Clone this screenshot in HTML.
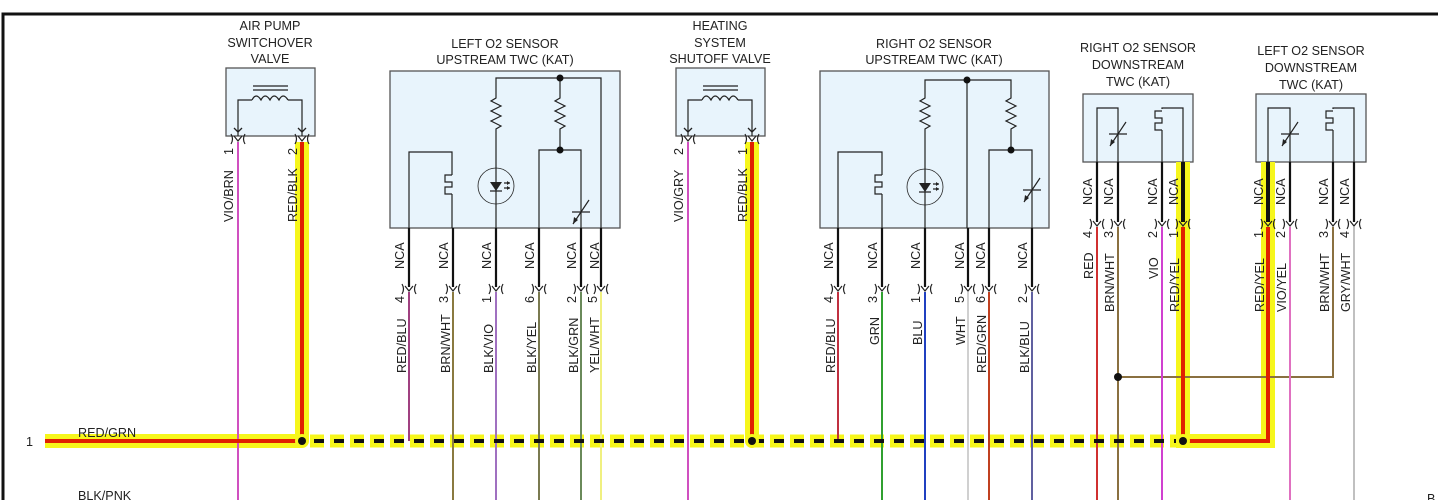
<!DOCTYPE html>
<html><head><meta charset="utf-8"><style>
html,body{margin:0;padding:0;background:#fff}
svg{display:block}
text{font-family:"Liberation Sans",sans-serif;font-size:12.6px;fill:#222}
</style></head><body>
<svg width="1438" height="500" viewBox="0 0 1438 500" xmlns="http://www.w3.org/2000/svg">
<defs>
<g id="con"><path d="M-7,-5 Q-4,0 -7,5 M7,-5 Q4,0 7,5 M-4,-3 L0,2 L4,-3" fill="none" stroke="#222" stroke-width="1.2"/></g>
<g id="res"><path d="M0,0 L0,4 L-5,7 L5,12 L-5,17 L5,22 L-5,27 L5,32 L0,35 L0,38" fill="none" stroke="#222" stroke-width="1.2"/></g>
<g id="therm"><path d="M-9,0 L9,0 M-8,12 L8,-12" fill="none" stroke="#222" stroke-width="1.2"/><path d="M-8,12 L-7,5 L-3,8 Z" fill="#222"/></g>
<g id="heat"><path d="M0,0 L-7,0 L-7,7 L0,7 L0,12 L-7,12 L-7,19 L0,19" fill="#fff0" stroke="#222" stroke-width="1.2"/></g>
<g id="led"><circle r="18" fill="none" stroke="#222" stroke-width="0.8"/><path d="M-6,-4 L6,-4 L0,5 Z" fill="#222"/><path d="M-6,5 L6,5 M8,-3 L14,-3 M8,2 L14,2" stroke="#222" stroke-width="1.2"/><path d="M14,-3 l-3,-2 v4z M14,2 l-3,-2 v4z" fill="#222"/></g>
</defs>

<path d="M3,500 L3,14 L1438,14" fill="none" stroke="#111" stroke-width="3"/>

<g text-anchor="middle">
<text x="270" y="30">AIR PUMP</text><text x="270" y="47">SWITCHOVER</text><text x="270" y="63">VALVE</text>
<text x="505" y="48">LEFT O2 SENSOR</text><text x="505" y="64">UPSTREAM TWC (KAT)</text>
<text x="720" y="30">HEATING</text><text x="720" y="47">SYSTEM</text><text x="720" y="63">SHUTOFF VALVE</text>
<text x="934" y="48">RIGHT O2 SENSOR</text><text x="934" y="64">UPSTREAM TWC (KAT)</text>
<text x="1138" y="52">RIGHT O2 SENSOR</text><text x="1138" y="69">DOWNSTREAM</text><text x="1138" y="86">TWC (KAT)</text>
<text x="1311" y="55">LEFT O2 SENSOR</text><text x="1311" y="72">DOWNSTREAM</text><text x="1311" y="89">TWC (KAT)</text>
</g>

<g fill="#e8f4fc" stroke="#555" stroke-width="1.3">
<rect x="226" y="68" width="89" height="68"/>
<rect x="390" y="71" width="230" height="157"/>
<rect x="676" y="68" width="89" height="68"/>
<rect x="820" y="71" width="229" height="157"/>
<rect x="1083" y="94" width="110" height="68"/>
<rect x="1256" y="94" width="110" height="68"/>
</g>

<g stroke="#f6f61c" stroke-width="14" fill="none">
<path d="M45,441 L302,441 M302,142 L302,441"/>
<path d="M752,142 L752,441"/>
<path d="M1183,162 L1183,441 L1268,441 L1268,162"/>
</g>
<g stroke="#f6f61c" stroke-width="13" fill="none" stroke-dasharray="14 6"><path d="M310,441 L1178,441"/></g>

<g fill="none" stroke="#222" stroke-width="1.2">
<path d="M238,136 L238,100 L252,100 M288,100 L302,100 L302,136"/>
<path d="M252,100 q4,-8 9,0 q4,-8 9,0 q4,-8 9,0 q4,-8 9,0"/>
<path d="M253,86 L288,86 M253,90 L288,90"/>
<path d="M688,136 L688,100 L702,100 M738,100 L752,100 L752,136"/>
<path d="M702,100 q4,-8 9,0 q4,-8 9,0 q4,-8 9,0 q4,-8 9,0"/>
<path d="M703,86 L738,86 M703,90 L738,90"/>
</g>
<g fill="none" stroke="#222" stroke-width="1.3">
<path d="M238,132 l-4,-4 M238,132 l4,-4 M302,132 l-4,-4 M302,132 l4,-4 M688,132 l-4,-4 M688,132 l4,-4 M752,132 l-4,-4 M752,132 l4,-4"/>
</g>

<g fill="none" stroke="#222" stroke-width="1.2">
<path d="M496,228 L496,132 M496,94 L496,78 L601,78 L601,228"/>
<path d="M560,78 L560,94 M560,132 L560,150 M539,228 L539,150 L581,150 L581,228"/>
<path d="M409,228 L409,152 L452,152 L452,175 M452,194 L452,228"/>
</g>
<use href="#res" x="496" y="94"/><use href="#res" x="560" y="94"/>
<use href="#heat" x="452" y="175"/><use href="#led" x="496" y="186"/><use href="#therm" x="581" y="212"/>
<circle cx="560" cy="78" r="3.5" fill="#111"/><circle cx="560" cy="150" r="3.5" fill="#111"/>

<g fill="none" stroke="#222" stroke-width="1.2">
<path d="M925,228 L925,132 M925,94 L925,80 L1011,80 L1011,94 M967,80 L967,228"/>
<path d="M1011,132 L1011,150 M989,228 L989,150 L1032,150 L1032,228"/>
<path d="M838,228 L838,152 L882,152 L882,175 M882,194 L882,228"/>
</g>
<use href="#res" x="925" y="94"/><use href="#res" x="1011" y="94"/>
<use href="#heat" x="882" y="175"/><use href="#led" x="925" y="187"/><use href="#therm" x="1032" y="190"/>
<circle cx="967" cy="80" r="3.5" fill="#111"/><circle cx="1011" cy="150" r="3.5" fill="#111"/>

<g fill="none" stroke="#222" stroke-width="1.2">
<path d="M1097,162 L1097,108 L1118,108 L1118,162 M1162,162 L1162,130 M1162,109 L1162,108 L1183,108 L1183,162"/>
<path d="M1268,162 L1268,108 L1290,108 L1290,162 M1333,162 L1333,130 M1333,109 L1333,108 L1354,108 L1354,162"/>
</g>
<use href="#therm" x="1118" y="134"/><use href="#heat" x="1162" y="111"/>
<use href="#therm" x="1290" y="134"/><use href="#heat" x="1333" y="111"/>

<g stroke="#111" stroke-width="2.2">
<path d="M409,228 V287 M453,228 V287 M496,228 V287 M539,228 V287 M581,228 V287 M601,228 V287"/>
<path d="M838,228 V287 M882,228 V287 M925,228 V287 M968,228 V287 M989,228 V287 M1032,228 V287"/>
<path d="M1097,162 V222 M1118,162 V222 M1162,162 V222 M1183,162 V222 M1268,162 V222 M1290,162 V222 M1333,162 V222 M1354,162 V222"/>
</g>

<g stroke-width="2" fill="none">
<path d="M238,142 V500" stroke="#d050c0"/>
<path d="M688,142 V500" stroke="#d050c0"/>
<path d="M409,292 V441" stroke="#a04080"/>
<path d="M453,292 V500" stroke="#8a7a40"/>
<path d="M496,292 V500" stroke="#a070c0"/>
<path d="M539,292 V500" stroke="#7a7a50"/>
<path d="M581,292 V500" stroke="#6a8a5a"/>
<path d="M601,292 V500" stroke="#f0f080"/>
<path d="M838,292 V441" stroke="#c03040"/>
<path d="M882,292 V500" stroke="#30a030"/>
<path d="M925,292 V500" stroke="#2040c0"/>
<path d="M968,292 V500" stroke="#d0d0d0"/>
<path d="M989,292 V500" stroke="#c04020"/>
<path d="M1032,292 V500" stroke="#6060a0"/>
<path d="M1097,227 V500" stroke="#d03030"/>
<path d="M1118,227 V500 M1118,377 H1333 V227" stroke="#8a7040"/>
<path d="M1162,227 V500" stroke="#d040d0"/>
<path d="M1290,227 V500" stroke="#e070c0"/>
<path d="M1354,227 V500" stroke="#c0c0c0"/>
</g>
<circle cx="1118" cy="377" r="4" fill="#111"/>

<g stroke="#e02000" stroke-width="4" fill="none">
<path d="M45,441 L302,441 M302,142 L302,441"/>
<path d="M752,142 L752,441"/>
<path d="M1183,227 L1183,441 L1268,441 L1268,227"/>
</g>
<g stroke="#111" stroke-width="4" fill="none">
<path d="M1183,162 V222 M1268,162 V222"/>
</g>
<g stroke="#111" stroke-width="4" fill="none" stroke-dasharray="10 10" stroke-dashoffset="-2"><path d="M312,441 L1176,441"/></g>

<circle cx="302" cy="441" r="7" fill="#f6f61c"/><circle cx="302" cy="441" r="4" fill="#111"/>
<circle cx="752" cy="441" r="7" fill="#f6f61c"/><circle cx="752" cy="441" r="4" fill="#111"/>
<circle cx="1183" cy="441" r="7" fill="#f6f61c"/><circle cx="1183" cy="441" r="4" fill="#111"/>

<use href="#con" x="238" y="139"/><use href="#con" x="302" y="139"/>
<use href="#con" x="688" y="139"/><use href="#con" x="752" y="139"/>
<use href="#con" x="409" y="289"/><use href="#con" x="453" y="289"/><use href="#con" x="496" y="289"/>
<use href="#con" x="539" y="289"/><use href="#con" x="581" y="289"/><use href="#con" x="601" y="289"/>
<use href="#con" x="838" y="289"/><use href="#con" x="882" y="289"/><use href="#con" x="925" y="289"/>
<use href="#con" x="968" y="289"/><use href="#con" x="989" y="289"/><use href="#con" x="1032" y="289"/>
<use href="#con" x="1097" y="224"/><use href="#con" x="1118" y="224"/><use href="#con" x="1162" y="224"/><use href="#con" x="1183" y="224"/>
<use href="#con" x="1268" y="224"/><use href="#con" x="1290" y="224"/><use href="#con" x="1333" y="224"/><use href="#con" x="1354" y="224"/>

<g>
<text transform="translate(233,155) rotate(-90)">1</text>
<text transform="translate(233,222) rotate(-90)">VIO/BRN</text>
<text transform="translate(297,155) rotate(-90)">2</text>
<text transform="translate(297,222) rotate(-90)">RED/BLK</text>
<text transform="translate(683,155) rotate(-90)">2</text>
<text transform="translate(683,222) rotate(-90)">VIO/GRY</text>
<text transform="translate(747,155) rotate(-90)">1</text>
<text transform="translate(747,222) rotate(-90)">RED/BLK</text>

<text transform="translate(404,269) rotate(-90)">NCA</text>
<text transform="translate(448,269) rotate(-90)">NCA</text>
<text transform="translate(491,269) rotate(-90)">NCA</text>
<text transform="translate(534,269) rotate(-90)">NCA</text>
<text transform="translate(576,269) rotate(-90)">NCA</text>
<text transform="translate(599,269) rotate(-90)">NCA</text>
<text transform="translate(404,303) rotate(-90)">4</text>
<text transform="translate(448,303) rotate(-90)">3</text>
<text transform="translate(491,303) rotate(-90)">1</text>
<text transform="translate(534,303) rotate(-90)">6</text>
<text transform="translate(576,303) rotate(-90)">2</text>
<text transform="translate(597,303) rotate(-90)">5</text>
<text transform="translate(406,373) rotate(-90)">RED/BLU</text>
<text transform="translate(450,373) rotate(-90)">BRN/WHT</text>
<text transform="translate(493,373) rotate(-90)">BLK/VIO</text>
<text transform="translate(536,373) rotate(-90)">BLK/YEL</text>
<text transform="translate(578,373) rotate(-90)">BLK/GRN</text>
<text transform="translate(599,373) rotate(-90)">YEL/WHT</text>

<text transform="translate(833,269) rotate(-90)">NCA</text>
<text transform="translate(877,269) rotate(-90)">NCA</text>
<text transform="translate(920,269) rotate(-90)">NCA</text>
<text transform="translate(964,269) rotate(-90)">NCA</text>
<text transform="translate(985,269) rotate(-90)">NCA</text>
<text transform="translate(1027,269) rotate(-90)">NCA</text>
<text transform="translate(833,303) rotate(-90)">4</text>
<text transform="translate(877,303) rotate(-90)">3</text>
<text transform="translate(920,303) rotate(-90)">1</text>
<text transform="translate(964,303) rotate(-90)">5</text>
<text transform="translate(985,303) rotate(-90)">6</text>
<text transform="translate(1027,303) rotate(-90)">2</text>
<text transform="translate(835,373) rotate(-90)">RED/BLU</text>
<text transform="translate(879,345) rotate(-90)">GRN</text>
<text transform="translate(922,345) rotate(-90)">BLU</text>
<text transform="translate(965,345) rotate(-90)">WHT</text>
<text transform="translate(986,373) rotate(-90)">RED/GRN</text>
<text transform="translate(1029,373) rotate(-90)">BLK/BLU</text>

<text transform="translate(1092,205) rotate(-90)">NCA</text>
<text transform="translate(1113,205) rotate(-90)">NCA</text>
<text transform="translate(1157,205) rotate(-90)">NCA</text>
<text transform="translate(1178,205) rotate(-90)">NCA</text>
<text transform="translate(1263,205) rotate(-90)">NCA</text>
<text transform="translate(1285,205) rotate(-90)">NCA</text>
<text transform="translate(1328,205) rotate(-90)">NCA</text>
<text transform="translate(1349,205) rotate(-90)">NCA</text>
<text transform="translate(1092,238) rotate(-90)">4</text>
<text transform="translate(1113,238) rotate(-90)">3</text>
<text transform="translate(1157,238) rotate(-90)">2</text>
<text transform="translate(1178,238) rotate(-90)">1</text>
<text transform="translate(1263,238) rotate(-90)">1</text>
<text transform="translate(1285,238) rotate(-90)">2</text>
<text transform="translate(1328,238) rotate(-90)">3</text>
<text transform="translate(1349,238) rotate(-90)">4</text>
<text transform="translate(1093,279) rotate(-90)">RED</text>
<text transform="translate(1114,312) rotate(-90)">BRN/WHT</text>
<text transform="translate(1158,279) rotate(-90)">VIO</text>
<text transform="translate(1179,312) rotate(-90)">RED/YEL</text>
<text transform="translate(1264,312) rotate(-90)">RED/YEL</text>
<text transform="translate(1286,312) rotate(-90)">VIO/YEL</text>
<text transform="translate(1329,312) rotate(-90)">BRN/WHT</text>
<text transform="translate(1350,312) rotate(-90)">GRY/WHT</text>
</g>

<text x="26" y="446">1</text>
<text x="78" y="437">RED/GRN</text>
<text x="78" y="500">BLK/PNK</text>
<text x="1427" y="503">B</text>
</svg>
</body></html>
